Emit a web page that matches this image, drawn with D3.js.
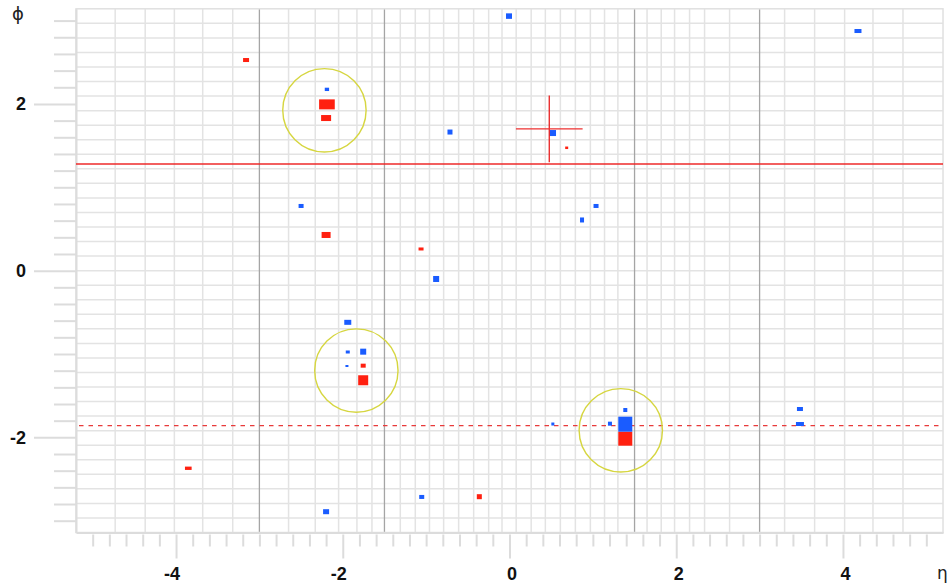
<!DOCTYPE html>
<html><head><meta charset="utf-8">
<script src="https://cdn.jsdelivr.net/npm/d3@7"></script>
<style>body{margin:0;background:#fff}svg{display:block}</style>
</head><body>
<svg id="c" width="952" height="586"></svg>
<script>
// ---- data ----
const etaGrid = [-4.73,-4.37,-4.02,-3.68,-3.32,-2.65,-2.33,-2.05,-1.83,-1.65,-1.31,-1.13,-0.96,-0.79,-0.61,-0.43,-0.25,-0.09,
  0.08,0.26,0.43,0.61,0.79,0.97,1.14,1.30,1.65,1.82,1.98,2.16,2.34,2.64,3.30,3.66,4.02,4.36,4.72];
const etaBoundaries = [-3, -1.5, 1.5, 3];
const phiGridCount = 36;
const xMajorTicks = [-4, -2, 0, 2, 4];
const yMajorTicks = [-2, 0, 2];
// blue cells: eta, phi, dEta, dPhi
const blueEta = [-0.006,4.18,-2.19,-0.714,0.518,-2.5,1.038,0.87,-0.88,-1.94,-1.94,-1.755,-1.95,1.389,1.205,1.389,0.52,3.484,3.484,-1.053,-2.2];
const bluePhi = [3.054,2.875,2.175,1.663,1.651,0.776,0.776,0.608,-0.1,-0.62,-0.976,-0.972,-1.144,-1.672,-1.836,-1.842,-1.84,-1.66,-1.84,-2.715,-2.892];
const blueDEta = [0.072,0.084,0.052,0.06,0.08,0.06,0.06,0.048,0.072,0.084,0.048,0.072,0.036,0.048,0.048,0.168,0.036,0.072,0.096,0.06,0.072];
const blueDPhi = [0.066,0.048,0.04,0.06,0.072,0.048,0.048,0.06,0.072,0.06,0.036,0.072,0.024,0.048,0.048,0.18,0.036,0.048,0.048,0.048,0.06];
// red cells
const redEta = [-3.16,-2.19,-2.2,0.686,-2.2,-1.061,-1.755,-1.755,1.389,-3.853,-0.362];
const redPhi = [2.527,1.995,1.831,1.474,0.428,0.26,-1.14,-1.315,-2.016,-2.371,-2.712];
const redDEta = [0.072,0.188,0.12,0.036,0.108,0.06,0.06,0.12,0.168,0.08,0.06];
const redDPhi = [0.048,0.12,0.072,0.03,0.072,0.036,0.048,0.12,0.168,0.04,0.06];
// jets (circles): eta, phi, R
const jetEta = [-2.22, -1.837, 1.335];
const jetPhi = [1.924, -1.198, -1.915];
const jetR = [0.5, 0.5, 0.5];
// lepton cross
const crossEta = 0.477, crossPhi = 1.70, crossHalf = 0.4;
// missing ET phi lines
const metPhiSolid = 1.279;
const metPhiDashed = -1.86;

// ---- chart ----
const svg = d3.select("#c");
const x = d3.scaleLinear().domain([-5.2, 5.2]).range([76, 943]);
const y = d3.scaleLinear().domain([-Math.PI, Math.PI]).range([532.5, 8.8]);
const fontFam = "'Liberation Sans', Arial, sans-serif";

const g = svg.append("g");
// grid horizontal
const phiGrid = d3.range(1, phiGridCount).map(k => -Math.PI + k * 2 * Math.PI / phiGridCount);
g.selectAll("line.hg").data(phiGrid).join("line")
  .attr("x1", x(-5.2)).attr("x2", x(5.2))
  .attr("y1", d => y(d)).attr("y2", d => y(d))
  .attr("stroke", "#e3e3e3").attr("stroke-width", 1.5);
g.selectAll("line.vg").data(etaGrid).join("line")
  .attr("x1", d => x(d)).attr("x2", d => x(d))
  .attr("y1", y(Math.PI)).attr("y2", y(-Math.PI))
  .attr("stroke", "#e3e3e3").attr("stroke-width", 1.5);
// frame
svg.append("rect").attr("x", x(-5.2)).attr("y", y(Math.PI))
  .attr("width", x(5.2) - x(-5.2)).attr("height", y(-Math.PI) - y(Math.PI))
  .attr("fill", "none").attr("stroke", "#e0e0e0").attr("stroke-width", 1.5);
// boundaries
g.selectAll("line.bd").data(etaBoundaries).join("line")
  .attr("x1", d => x(d)).attr("x2", d => x(d))
  .attr("y1", y(Math.PI)).attr("y2", y(-Math.PI))
  .attr("stroke", "#a5a5a5").attr("stroke-width", 1.3);

// axes
const xTickVals = d3.range(-25, 26).map(i => i * 0.2);
const xAxis = d3.axisBottom(x).tickValues(xTickVals)
  .tickSize(0).tickFormat("");
const gx = svg.append("g").attr("transform", `translate(0,${y(-Math.PI)})`).call(xAxis);
gx.select(".domain").attr("stroke", "#dcdcdc").attr("stroke-width", 2);
gx.selectAll(".tick line")
  .attr("y1", 2)
  .attr("y2", d => xMajorTicks.some(m => Math.abs(m - d) < 1e-6) ? 26 : 14)
  .attr("stroke", "#dcdcdc").attr("stroke-width", 2);
gx.selectAll(".tick text").remove();
svg.append("g").selectAll("text").data(xMajorTicks).join("text")
  .attr("x", d => x(d) + (d < 0 ? -4 : 2.5)).attr("y", 580).attr("text-anchor", "middle")
  .attr("font-family", fontFam).attr("font-weight", "bold").attr("font-size", 18)
  .attr("fill", "#111").text(d => d);

const yTickVals = d3.range(-15, 16).map(i => i * 0.2);
const yAxis = d3.axisLeft(y).tickValues(yTickVals).tickSize(0).tickFormat("");
const gy = svg.append("g").attr("transform", `translate(${x(-5.2)},0)`).call(yAxis);
gy.select(".domain").attr("stroke", "#dcdcdc").attr("stroke-width", 2);
gy.selectAll(".tick line")
  .attr("x1", 0)
  .attr("x2", d => yMajorTicks.some(m => Math.abs(m - d) < 1e-6) ? -42 : -22)
  .attr("stroke", "#dcdcdc").attr("stroke-width", 2);
gy.selectAll(".tick text").remove();
svg.append("g").selectAll("text").data(yMajorTicks).join("text")
  .attr("x", 26).attr("y", d => y(d) + 6.5).attr("text-anchor", "end")
  .attr("font-family", fontFam).attr("font-weight", "bold").attr("font-size", 18)
  .attr("fill", "#111").text(d => d);

svg.append("text").attr("x", 12).attr("y", 20)
  .attr("font-family", "'DejaVu Sans', sans-serif").attr("font-size", 18).attr("fill", "#222").text("ϕ");
svg.append("text").attr("x", 937).attr("y", 579)
  .attr("font-family", "'DejaVu Sans', sans-serif").attr("font-size", 17).attr("fill", "#222").text("η");

// MET lines
svg.append("line").attr("x1", x(-5.2)).attr("x2", x(5.2))
  .attr("y1", y(metPhiSolid)).attr("y2", y(metPhiSolid))
  .attr("stroke", "#ee2a2a").attr("stroke-width", 1.4);
svg.append("line").attr("x1", x(-5.2) + 3).attr("x2", x(5.2))
  .attr("y1", y(metPhiDashed)).attr("y2", y(metPhiDashed))
  .attr("stroke", "#e83a3a").attr("stroke-width", 1.3).attr("stroke-dasharray", "4.5,5");

// jets
const jets = jetEta.map((e, i) => ({eta: e, phi: jetPhi[i], r: jetR[i]}));
svg.append("g").selectAll("ellipse").data(jets).join("ellipse")
  .attr("cx", d => x(d.eta)).attr("cy", d => y(d.phi))
  .attr("rx", d => x(d.r) - x(0)).attr("ry", d => y(0) - y(d.r))
  .attr("fill", "none").attr("stroke", "#d6d640").attr("stroke-width", 1.4);

// cells
function cells(etas, phis, dE, dP) {
  return etas.map((e, i) => ({eta: e, phi: phis[i], de: dE[i], dp: dP[i]}));
}
const drawCells = (data, color) => svg.append("g").selectAll("rect").data(data).join("rect")
  .attr("x", d => x(d.eta - d.de / 2)).attr("y", d => y(d.phi + d.dp / 2))
  .attr("width", d => x(d.eta + d.de / 2) - x(d.eta - d.de / 2))
  .attr("height", d => y(d.phi - d.dp / 2) - y(d.phi + d.dp / 2))
  .attr("fill", color);
drawCells(cells(redEta, redPhi, redDEta, redDPhi), "#ff2010");
drawCells(cells(blueEta, bluePhi, blueDEta, blueDPhi), "#1a5cff");

// cross
svg.append("line").attr("x1", x(crossEta)).attr("x2", x(crossEta))
  .attr("y1", y(crossPhi + crossHalf)).attr("y2", y(crossPhi - crossHalf))
  .attr("stroke", "#e82020").attr("stroke-width", 1.3);
svg.append("line").attr("x1", x(crossEta - crossHalf)).attr("x2", x(crossEta + crossHalf))
  .attr("y1", y(crossPhi)).attr("y2", y(crossPhi))
  .attr("stroke", "#ee3030").attr("stroke-width", 1.3);
</script>
</body></html>
